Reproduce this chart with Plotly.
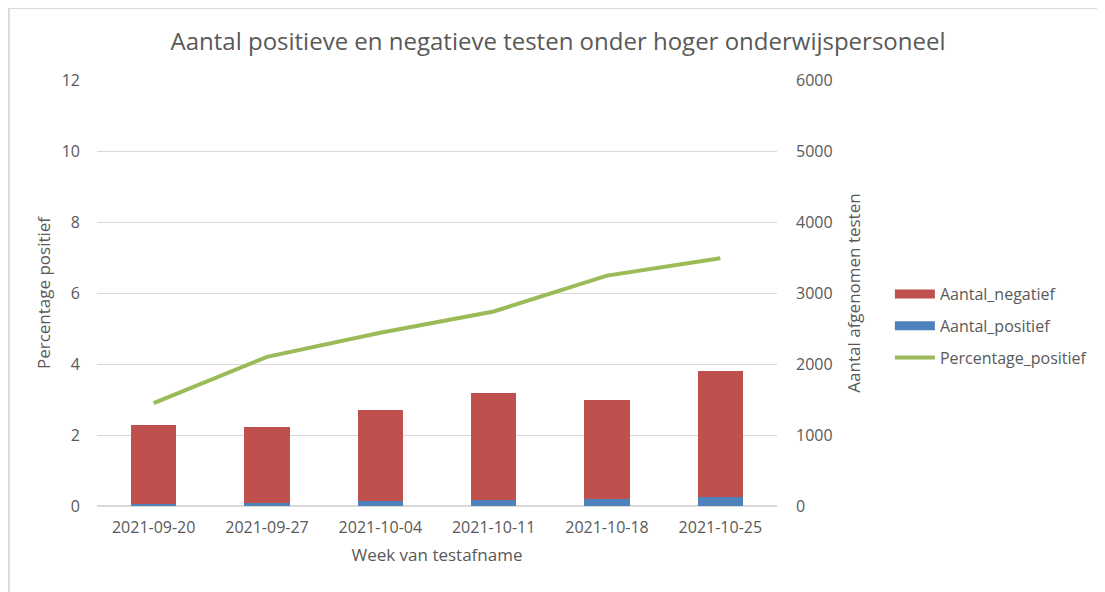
import plotly.graph_objects as go

weeks = ["2021-09-20", "2021-09-27", "2021-10-04", "2021-10-11", "2021-10-18", "2021-10-25"]
aantal_positief = [33, 47, 66, 88, 97, 133]
aantal_negatief = [1112, 1068, 1289, 1507, 1400, 1773]
percentage_positief = [2.9, 4.2, 4.88, 5.48, 6.49, 6.98]

grey = "#595959"
font = "Open Sans"
red = "#C0504D"
blue = "#4F81BD"
green = "#9BBB59"

fig = go.Figure()
fig.add_trace(go.Bar(x=weeks, y=aantal_positief, name="Aantal_positief",
                     marker=dict(color=blue, line=dict(width=0)),
                     yaxis="y", showlegend=False))
fig.add_trace(go.Bar(x=weeks, y=aantal_negatief, name="Aantal_negatief",
                     marker=dict(color=red, line=dict(width=0)),
                     yaxis="y", showlegend=False))
fig.add_trace(go.Scatter(x=weeks, y=percentage_positief, name="Percentage_positief",
                         mode="lines", line=dict(color=green, width=4),
                         yaxis="y2", legendrank=3, legendgroup="c"))
# legend entries for the bars (wide rectangles like the original)
fig.add_trace(go.Scatter(x=[weeks[0]], y=[None], name="Aantal_negatief", mode="lines",
                         line=dict(color=red, width=9), yaxis="y2",
                         legendrank=1, legendgroup="a", hoverinfo="skip"))
fig.add_trace(go.Scatter(x=[weeks[0]], y=[None], name="Aantal_positief", mode="lines",
                         line=dict(color=blue, width=9), yaxis="y2",
                         legendrank=2, legendgroup="b", hoverinfo="skip"))

fig.update_layout(
    width=1097, height=584,
    barmode="stack", bargap=0.6,
    paper_bgcolor="white", plot_bgcolor="white",
    margin=dict(l=89, r=321, t=72, b=86),
    font=dict(family=font, color=grey, size=16),
    title=dict(text="Aantal positieve en negatieve testen onder hoger onderwijspersoneel",
               x=0.5014, xref="container", xanchor="center",
               y=0.942, yref="container", yanchor="middle",
               font=dict(size=24, color=grey, family=font)),
    xaxis=dict(type="category", showgrid=False, showline=False, ticks="",
               tickfont=dict(size=16, color=grey), ticklabelstandoff=10,
               title=dict(text="Week van testafname", font=dict(size=17, color=grey), standoff=12)),
    yaxis=dict(side="right", range=[0, 6000], dtick=1000, showgrid=True,
               gridcolor="#D9D9D9", gridwidth=1, zeroline=True, zerolinecolor="#D9D9D9",
               ticks="", tickfont=dict(size=16, color=grey), ticklabelstandoff=18,
               title=dict(text="Aantal afgenomen testen", font=dict(size=17, color=grey), standoff=16)),
    yaxis2=dict(side="left", overlaying="y", range=[0, 12], dtick=2, showgrid=False,
                zeroline=False, ticks="", tickfont=dict(size=16, color=grey), ticklabelstandoff=16,
                title=dict(text="Percentage positief", font=dict(size=17, color=grey), standoff=6)),
    legend=dict(x=1.166, xanchor="left", y=0.4225, yanchor="middle", xref="paper",
                font=dict(size=16, color=grey), tracegroupgap=8, traceorder="grouped",
                itemwidth=40),
    showlegend=True,
)
fig.add_shape(type="line", xref="paper", yref="paper", x0=-0.1296, x1=-0.1296, y0=-0.3, y1=1.169,
              line=dict(color="#D9D9D9", width=2), layer="below")
fig.add_shape(type="line", xref="paper", yref="paper", x0=-0.1296, x1=1.6, y0=1.169, y1=1.169,
              line=dict(color="#D9D9D9", width=2), layer="below")
fig.write_html("out.html")
